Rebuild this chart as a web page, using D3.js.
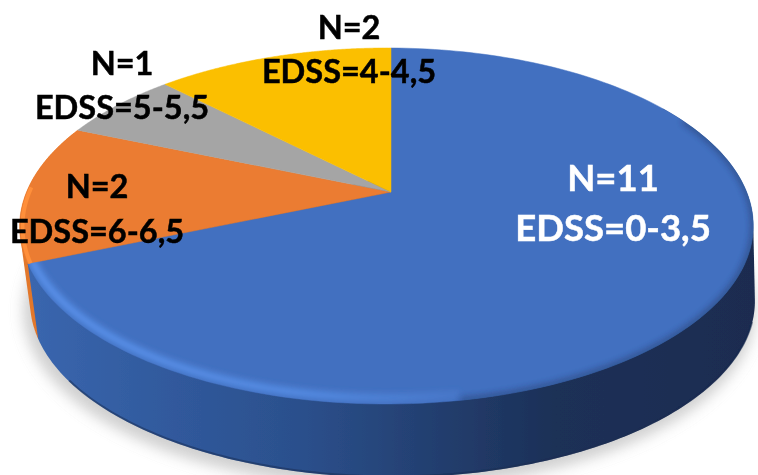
<!DOCTYPE html>
<html><head><meta charset="utf-8">
<style>html,body{margin:0;padding:0;background:#fff;overflow:hidden}svg{display:block}text{font-family:Lato,sans-serif;font-weight:700;text-anchor:middle}</style>
<script src="https://cdn.jsdelivr.net/npm/d3@7"></script>
</head><body><svg id="c" width="758" height="475"></svg>
<script>
const categories = ["EDSS=0-3,5","EDSS=6-6,5","EDSS=5-5,5","EDSS=4-4,5"];
const counts = [11,2,1,2];
const nLabels = ["N=11","N=2","N=1","N=2"];
const colors = ["#4270c0","#eb7c30","#a5a5a5","#fbbf03"];
const labelColors = ["#ffffff","#000000","#000000","#000000"];
const labelSizes = [36.5,32.5,32.5,32.5];

const svg=d3.select("#c");
const defs=svg.append("defs");
const blur=(id,s)=>defs.append("filter").attr("id",id).attr("x","-10%").attr("y","-10%").attr("width","120%").attr("height","125%")
  .append("feGaussianBlur").attr("stdDeviation",s);
blur("b05",0.7);blur("b2",3);blur("b6",7);

// perspective projection of the pie disc
const cx=391,cy=192,A=360,B=171.5,k=0.191,m=0.0122;
function proj(a,dx=0,dy=0,s=1){
  const X=Math.sin(a),Y=Math.cos(a),w=1/(1+k*Y+m*X);
  return [cx+dx+s*A*X*w, cy+dy-s*B*Y*w];
}
const lower=a=>proj(a,6,76,0.988);
const upper=a=>proj(a);
const line=d3.line();
const pie=d3.pie().sort(null).value(d=>d)(counts);
const samples=(a0,a1)=>d3.range(0,181).map(i=>a0+(a1-a0)*i/180);

const sideGrad=defs.append("linearGradient").attr("id","side").attr("gradientUnits","userSpaceOnUse")
  .attr("x1",30).attr("x2",758).attr("y1",0).attr("y2",0);
[[0,"#3a66ae"],[0.2,"#30599c"],[0.38,"#2b4f8b"],[0.55,"#233f70"],[0.72,"#1c3057"],[1,"#1a2c50"]]
  .forEach(([o,c])=>sideGrad.append("stop").attr("offset",o).attr("stop-color",c));
const hiGrad=defs.append("linearGradient").attr("id","hi").attr("gradientUnits","userSpaceOnUse")
  .attr("x1",30).attr("x2",520).attr("y1",0).attr("y2",0);
[[0,"#5b94ee",1],[0.55,"#5b94ee",0.85],[1,"#5b94ee",0]]
  .forEach(([o,c,p])=>hiGrad.append("stop").attr("offset",o).attr("stop-color",c).attr("stop-opacity",p));

const root=svg.append("g").attr("filter","url(#b05)");
// shadow
root.append("path").attr("d",line(samples(Math.PI*0.4,Math.PI*1.55).map(a=>proj(a,3,84,0.998)))+"Z")
  .attr("fill","#b0b0b0").attr("opacity",0.6).attr("filter","url(#b6)");

// walls: convex hull of the top and bottom arcs of each slice
const wall=(a0,a1,fill)=>root.append("path")
  .attr("d","M"+d3.polygonHull(samples(a0,a1).map(upper).concat(samples(a0,a1).map(lower))).join("L")+"Z").attr("fill",fill);
wall(pie[1].startAngle,pie[1].endAngle,"#e2772c");
wall(pie[0].startAngle+1.0,pie[0].endAngle,"url(#side)");
// dark lip on lower edge of wall
root.append("path").attr("d",line(samples(Math.PI*0.6,Math.PI*1.3).map(a=>proj(a,6,75,0.988))))
  .attr("fill","none").attr("stroke","#1a2c50").attr("stroke-width",2).attr("opacity",0.5);

// faces
const faces=root.append("g");
pie.forEach((p,i)=>{
  const pts=[[cx,cy]].concat(samples(p.startAngle,p.endAngle).map(upper));
  faces.append("path").attr("d",line(pts)+"Z").attr("fill",colors[i]).attr("stroke",colors[i]).attr("stroke-width",0.5);
});
// bevel
const cp=defs.append("clipPath").attr("id","blueClip");
cp.append("path").attr("d",line([[cx,cy]].concat(samples(pie[0].startAngle,pie[0].endAngle).map(upper)))+"Z");
root.append("g").attr("clip-path","url(#blueClip)").append("path")
  .attr("d",line(samples(Math.PI*0.95,pie[0].endAngle).map(a=>proj(a,0,-4,0.99))))
  .attr("fill","none").attr("stroke","url(#hi)").attr("stroke-width",7).attr("filter","url(#b2)");
root.append("g").attr("clip-path","url(#blueClip)").append("path")
  .attr("d",line(samples(Math.PI*0.35,Math.PI*0.95).map(upper)))
  .attr("fill","none").attr("stroke","#1a2c50").attr("stroke-width",4).attr("opacity",0.6).attr("filter","url(#b2)");
root.append("path").attr("d",line(samples(pie[1].startAngle,pie[1].startAngle+0.42).map(a=>proj(a,1,0,0.995))))
  .attr("fill","none").attr("stroke","#ff8f3a").attr("stroke-width",4).attr("filter","url(#b05)");

// labels
const labelPos=[[613,191,241],[97,198,243],[122,75,119],[349,39,83]];
const labels=root.append("g");
categories.forEach((c,i)=>{
  const [x,y1,y2]=labelPos[i];
  [[nLabels[i],y1],[c,y2]].forEach(([t,y])=>labels.append("text").attr("x",x).attr("y",y)
    .style("font-size",labelSizes[i]+"px").attr("fill",labelColors[i])
    .attr("stroke",labelColors[i]).attr("stroke-width",0.5).text(t));
});
</script></body></html>
